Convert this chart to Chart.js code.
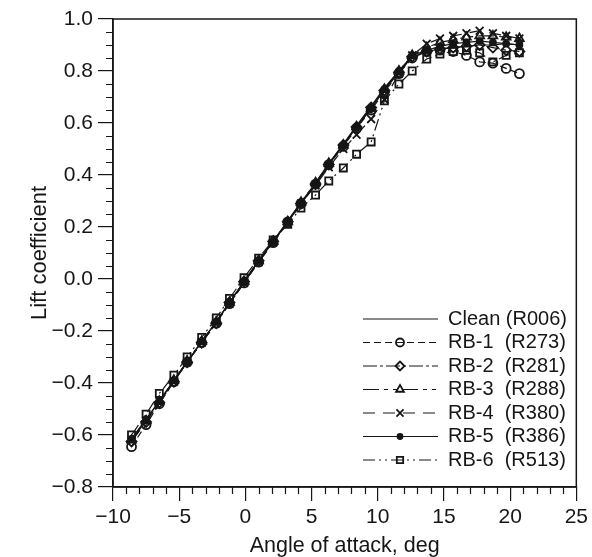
<!DOCTYPE html>
<html>
<head>
<meta charset="utf-8">
<script src="https://cdn.jsdelivr.net/npm/chart.js@4.4.0/dist/chart.umd.min.js"></script>
<style>
  html, body { margin: 0; padding: 0; background: #fff; }
</style>
</head>
<body>
<canvas id="myChart" width="592" height="557"></canvas>
<script>
// angle of attack, deg (shared by all runs)
const alpha = [-8.6, -7.5, -6.5, -5.4, -4.4, -3.3, -2.2, -1.2, -0.1, 1.0, 2.1, 3.2, 4.2, 5.3, 6.3,
  7.4, 8.4, 9.5, 10.5, 11.6, 12.6, 13.7, 14.7, 15.7, 16.7, 17.7, 18.7, 19.7, 20.7];

// lift coefficient per run
const clean = [-0.615, -0.54, -0.47, -0.39, -0.32, -0.24, -0.165, -0.09, -0.01, 0.07, 0.145, 0.225, 0.295, 0.37, 0.445,
  0.52, 0.59, 0.665, 0.735, 0.80, 0.855, 0.875, 0.885, 0.89, 0.895, 0.90, 0.90, 0.905, 0.90];
const rb1 = [-0.645, -0.56, -0.48, -0.395, -0.32, -0.245, -0.17, -0.095, -0.015, 0.065, 0.14, 0.22, 0.29, 0.365, 0.44,
  0.51, 0.58, 0.65, 0.72, 0.79, 0.85, 0.875, 0.88, 0.875, 0.86, 0.835, 0.83, 0.81, 0.79];
const rb2 = [-0.625, -0.55, -0.475, -0.395, -0.32, -0.245, -0.17, -0.09, -0.01, 0.07, 0.145, 0.22, 0.29, 0.365, 0.44,
  0.515, 0.585, 0.66, 0.725, 0.795, 0.855, 0.875, 0.885, 0.89, 0.895, 0.90, 0.89, 0.88, 0.875];
const rb3 = [-0.62, -0.545, -0.47, -0.39, -0.315, -0.24, -0.165, -0.09, -0.01, 0.07, 0.145, 0.22, 0.295, 0.37, 0.445,
  0.515, 0.585, 0.655, 0.73, 0.80, 0.86, 0.89, 0.91, 0.92, 0.93, 0.935, 0.935, 0.93, 0.925];
const rb4 = [-0.62, -0.545, -0.47, -0.395, -0.32, -0.245, -0.17, -0.095, -0.015, 0.065, 0.14, 0.215, 0.29, 0.36, 0.43,
  0.50, 0.555, 0.615, 0.69, 0.79, 0.86, 0.905, 0.925, 0.935, 0.945, 0.955, 0.945, 0.935, 0.925];
const rb5 = [-0.615, -0.54, -0.47, -0.39, -0.32, -0.24, -0.165, -0.09, -0.01, 0.07, 0.145, 0.22, 0.29, 0.365, 0.44,
  0.515, 0.585, 0.655, 0.73, 0.80, 0.86, 0.88, 0.895, 0.905, 0.91, 0.915, 0.91, 0.905, 0.90];
const rb6 = [-0.60, -0.52, -0.44, -0.37, -0.30, -0.225, -0.15, -0.075, 0.005, 0.08, 0.15, 0.21, 0.273, 0.323, 0.377,
  0.427, 0.48, 0.527, 0.685, 0.75, 0.80, 0.846, 0.865, 0.875, 0.88, 0.87, 0.835, 0.86, 0.87];

const runNames = ['Clean (R006)', 'RB-1  (R273)', 'RB-2  (R281)', 'RB-3  (R288)', 'RB-4  (R380)', 'RB-5  (R386)', 'RB-6  (R513)'];
const runValues = [clean, rb1, rb2, rb3, rb4, rb5, rb6];

const INK = '#161616';
const FONT = "'Liberation Sans', Arial, Helvetica, sans-serif";

// line / marker look of each run
const looks = [
  { dash: [], pointStyle: false, r: 0, fill: false },
  { dash: [7, 4], pointStyle: 'circle', r: 4.5, fill: false },
  { dash: [14, 3, 3, 3], pointStyle: 'rectRot', r: 5, fill: false },
  { dash: [16, 5, 4, 5, 4, 5], pointStyle: 'triangle', r: 5, fill: false },
  { dash: [12, 8], pointStyle: 'crossRot', r: 5.5, fill: false },
  { dash: [], pointStyle: 'circle', r: 3, fill: true },
  { dash: [12, 4, 2, 4, 2, 4], pointStyle: 'rect', r: 5, fill: false }
];

const datasets = runValues.map((vals, i) => ({
  label: runNames[i],
  data: vals.map((v, k) => ({ x: alpha[k], y: v })),
  borderColor: INK,
  borderWidth: 1.2,
  borderDash: looks[i].dash,
  showLine: true,
  pointStyle: looks[i].pointStyle,
  pointRadius: looks[i].r,
  pointBorderWidth: 1.8,
  pointBorderColor: INK,
  pointBackgroundColor: looks[i].fill ? INK : 'rgba(0,0,0,0)'
}));

const minus = s => String(s).replace('-', '\u2212');

const extras = {
  id: 'extras',
  afterDraw(chart) {
    const { ctx, chartArea: a, scales: { x, y } } = chart;
    ctx.save();
    ctx.strokeStyle = INK;
    ctx.lineWidth = 1.5;
    ctx.strokeRect(a.left, a.top, a.right - a.left, a.bottom - a.top);

    // minor ticks
    ctx.lineWidth = 1.2;
    ctx.beginPath();
    for (let v = -10; v <= 25; v++) {
      if (v % 5 === 0) continue;
      const px = Math.round(x.getPixelForValue(v)) + 0.5;
      ctx.moveTo(px, a.bottom);
      ctx.lineTo(px, a.bottom + 7);
    }
    for (let k = -16; k <= 20; k++) {
      if (k % 4 === 0) continue;
      const py = Math.round(y.getPixelForValue(k * 0.05)) + 0.5;
      ctx.moveTo(a.left, py);
      ctx.lineTo(a.left - 7, py);
    }
    ctx.stroke();

    // legend: line sample with marker, then label
    ctx.font = '20px ' + FONT;
    ctx.textBaseline = 'middle';
    ctx.textAlign = 'left';
    chart.data.datasets.forEach((ds, i) => {
      const ly = 319 + i * 23.5;
      ctx.strokeStyle = INK;
      ctx.lineWidth = 1.2;
      ctx.setLineDash(ds.borderDash);
      ctx.beginPath();
      ctx.moveTo(363, ly);
      ctx.lineTo(438, ly);
      ctx.stroke();
      ctx.setLineDash([]);
      if (ds.pointStyle) {
        ctx.fillStyle = ds.pointBackgroundColor;
        ctx.lineWidth = ds.pointBorderWidth;
        Chart.helpers.drawPoint(ctx, { pointStyle: ds.pointStyle, radius: ds.pointRadius - 0.5, rotation: 0, borderWidth: ds.pointBorderWidth }, 400, ly);
      }
      ctx.fillStyle = INK;
      ctx.fillText(ds.label, 448, ly);
    });
    ctx.restore();
  }
};

new Chart(document.getElementById('myChart'), {
  type: 'scatter',
  data: { datasets },
  options: {
    responsive: false,
    animation: false,
    devicePixelRatio: 1,
    layout: { padding: { top: 19, right: 15, left: 0, bottom: 0 } },
    plugins: { legend: { display: false }, tooltip: { enabled: false } },
    scales: {
      x: {
        type: 'linear', min: -10, max: 25,
        afterFit: s => { s.height = 70; },
        ticks: { stepSize: 5, color: INK, padding: 4, font: { family: FONT, size: 21 }, callback: v => minus(v) },
        grid: { drawOnChartArea: false, drawTicks: true, tickLength: 14, color: INK, lineWidth: 1.2 },
        border: { display: true, color: INK, width: 1.5 },
        title: { display: true, text: 'Angle of attack, deg', color: INK, font: { family: FONT, size: 21.5, lineHeight: 1 }, padding: 0 }
      },
      y: {
        type: 'linear', min: -0.8, max: 1.0,
        afterFit: s => { s.width = 113; },
        ticks: { stepSize: 0.2, color: INK, padding: 5, font: { family: FONT, size: 21 }, callback: v => minus(v.toFixed(1)) },
        grid: { drawOnChartArea: false, drawTicks: true, tickLength: 15, color: INK, lineWidth: 1.2 },
        border: { display: true, color: INK, width: 1.5 },
        title: { display: true, text: 'Lift coefficient', color: INK, font: { family: FONT, size: 22, lineHeight: 1.2 }, padding: { top: 27, bottom: 0 } }
      }
    }
  },
  plugins: [extras]
});
</script>
</body>
</html>
